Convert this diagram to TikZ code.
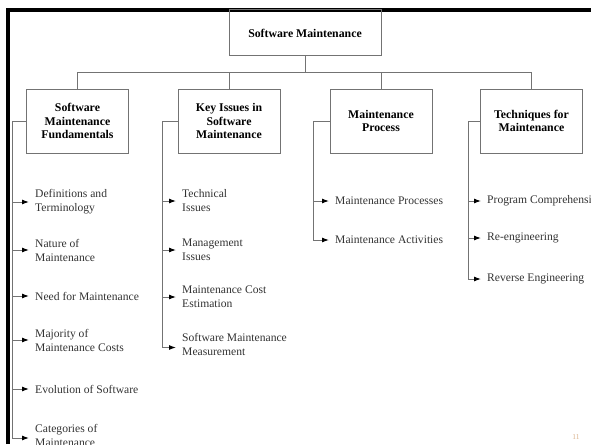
\documentclass[tikz,border=0pt]{standalone}
\usepackage{fontspec}
\setmainfont{Liberation Serif}
\usetikzlibrary{arrows.meta}
\tikzset{
    topic/.style={draw=black!55, line width=1pt, minimum width=102pt, minimum height=64pt,
        align=center, inner sep=2pt, font=\fontsize{11.8}{13.6}\selectfont\bfseries},
    item/.style={anchor=west, align=left, inner xsep=6pt, inner ysep=0pt,
        text=black!80, font=\fontsize{11.6}{14}\selectfont},
    link/.style={draw=black!55, line width=1pt},
    arr/.style={link, -{Latex[length=7pt,width=5pt,black]}}
}
\begin{document}
\begin{tikzpicture}[x=1pt, y=-1pt]
    \useasboundingbox (0,0) rectangle (591,444);
    \draw[line width=3.5pt] (8,444) -- (8,10) -- (591,10);
    \node[topic, minimum width=152pt, minimum height=46pt] (root) at (305,33) {Software Maintenance};
    \node[topic] (fund) at (77.5,121) {Software\\Maintenance\\Fundamentals};
    \node[topic] (keys) at (229,121) {Key Issues in\\Software\\Maintenance};
    \node[topic] (proc) at (381,121) {Maintenance\\Process};
    \node[topic] (tech) at (531.5,121) {Techniques for\\Maintenance};
    \coordinate (bus) at (305,72);
    \draw[link] (root.south) -- (bus);
    \foreach \b in {fund,keys,proc,tech}
        \draw[link] (bus) -| (\b.north);

    \node[item] (def) at (29,202) {Definitions and\\Terminology};
    \node[item] (nat) at (29,250) {Nature of\\Maintenance};
    \node[item] (need) at (29,296) {Need for Maintenance};
    \node[item] (maj) at (29,340) {Majority of\\Maintenance Costs};
    \node[item] (evo) at (29,389) {Evolution of Software};
    \node[item] (cat) at (29,435) {Categories of\\Maintenance};
    \coordinate (fundtrunk) at (12,121);
    \foreach \i in {def,nat,need,maj,evo}
        \draw[arr] (fund.west) -- (fundtrunk) |- (\i.west);
    \draw[arr] (fund.west) -- (fundtrunk) |- ([yshift=-3pt]cat.west);

    \node[item] (techiss) at (176,201) {Technical\\Issues};
    \node[item] (mgmt) at (176,250) {Management\\Issues};
    \node[item] (cost) at (176,297) {Maintenance Cost\\Estimation};
    \node[item] (meas) at (176,344.5) {Software Maintenance\\Measurement};
    \coordinate (keystrunk) at (162,121);
    \foreach \i in {techiss,mgmt,cost}
        \draw[arr] (keys.west) -- (keystrunk) |- (\i.west);
    \draw[arr] (keys.west) -- (keystrunk) |- ([yshift=-3pt]meas.west);

    \node[item] (mproc) at (329,201) {Maintenance Processes};
    \node[item] (mact) at (329,240) {Maintenance Activities};
    \coordinate (proctrunk) at (313,121);
    \foreach \i in {mproc,mact}
        \draw[arr] (proc.west) -- (proctrunk) |- (\i.west);

    \node[item] (comp) at (481,201) {Program Comprehension};
    \node[item] (reeng) at (481,238) {Re-engineering};
    \node[item] (rev) at (481,279) {Reverse Engineering};
    \coordinate (techtrunk) at (468,121);
    \foreach \i in {comp,reeng,rev}
        \draw[arr] (tech.west) -- (techtrunk) |- (\i.west);

    \node[text=brown!60!white, font=\fontsize{7.5}{8}\selectfont] (page) at (576,437) {11};
\end{tikzpicture}
\end{document}
